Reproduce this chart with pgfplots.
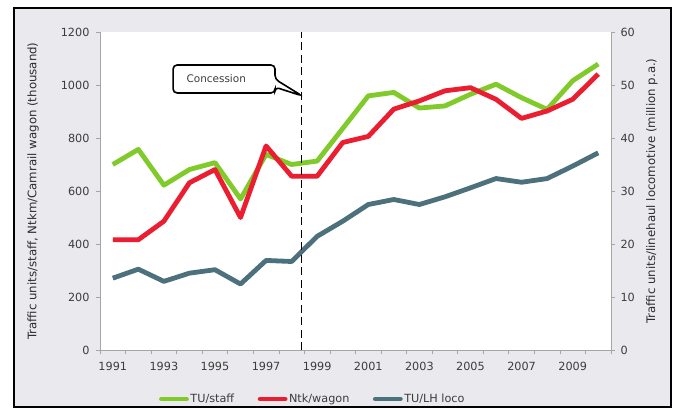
\documentclass[border=0pt]{standalone}
\usepackage{pgfplots}
\pgfplotsset{compat=1.18}
\usepackage{fontspec}
\setmainfont{DejaVu Sans}
\definecolor{cgreen}{RGB}{128,202,42}
\definecolor{cred}{RGB}{234,30,48}
\definecolor{cgrey}{RGB}{76,112,124}
\definecolor{bggrey}{RGB}{234,234,238}
\definecolor{axgrey}{RGB}{165,165,165}
\definecolor{txtgrey}{RGB}{60,60,60}
\definecolor{lblgrey}{RGB}{45,45,45}
\begin{document}
\begin{tikzpicture}
\path[use as bounding box] (0,0) rectangle (676bp,-410bp);
\draw[line width=2bp, fill=bggrey] (14bp,-8bp) rectangle (671bp,-407bp);
\fill[white] (100bp,-32bp) rectangle (611bp,-350bp);
\begin{axis}[
  at={(100bp,-350bp)}, anchor=south west, scale only axis,
  width=511bp, height=318bp,
  xmin=1990.5, xmax=2010.5, ymin=0, ymax=1200,
  axis x line*=bottom, axis y line*=left,
  axis line style={draw=axgrey, line width=0.8bp},
  every axis plot/.append style={line width=4.8bp, line join=round},
  font=\fontsize{11.3}{13}\selectfont,
  tick label style={text=txtgrey},
  xtick={1991,1993,...,2009},
  xticklabels={1991,1993,1995,1997,1999,2001,2003,2005,2007,2009},
  minor xtick={1990.5,1991.5,...,2010.5},
  major x tick style={draw=none},
  minor x tick style={draw=axgrey, line width=0.6bp},
  minor tick length=4bp, major tick length=4bp,
  tick align=outside,
  ytick={0,200,...,1200},
  y tick style={draw=axgrey, line width=0.6bp},
  /pgf/number format/1000 sep={},
  /pgf/number format/assume math mode=true,
  xticklabel style={yshift=-5bp},
  yticklabel style={xshift=-3bp},
  ylabel={Traffic units/staff, Ntkm/Camrail wagon (thousand)},
  ylabel style={at={(axis description cs:-0.131,0.5)}, anchor=center, font=\fontsize{11.8}{13}\selectfont, text=lblgrey},
  clip=false,
]
\addplot[cgreen] coordinates {(1991,700) (1992,757) (1993,622) (1994,681) (1995,707) (1996,570) (1997,738) (1998,700) (1999,713) (2000,836) (2001,959) (2002,972) (2003,913) (2004,921) (2005,965) (2006,1003) (2007,952) (2008,908) (2009,1016) (2010,1079)};
\addplot[cred] coordinates {(1991,416) (1992,416) (1993,486) (1994,631) (1995,681) (1996,500) (1997,770) (1998,656) (1999,656) (2000,783) (2001,806) (2002,909) (2003,940) (2004,978) (2005,990) (2006,946) (2007,874) (2008,902) (2009,946) (2010,1041)};
\end{axis}
\begin{axis}[
  at={(100bp,-350bp)}, anchor=south west, scale only axis,
  width=511bp, height=318bp,
  xmin=1990.5, xmax=2010.5, ymin=0, ymax=60,
  axis y line*=right, hide x axis,
  axis line style={draw=axgrey, line width=0.8bp},
  every axis plot/.append style={line width=4.8bp, line join=round},
  font=\fontsize{11.3}{13}\selectfont,
  tick label style={text=txtgrey},
  ytick={0,10,...,60},
  y tick style={draw=axgrey, line width=0.6bp},
  major tick length=4bp, tick align=outside,
  /pgf/number format/assume math mode=true,
  yticklabel style={xshift=2bp},
  ylabel={Traffic units/linehaul locomotive (million p.a.)},
  ylabel style={at={(axis description cs:1.080,0.5)}, anchor=center, font=\fontsize{11.8}{13}\selectfont, text=lblgrey},
  legend columns=3,
  legend style={at={(axis description cs:0.416,-0.154)}, anchor=center, draw=none, fill=none,
    font=\fontsize{11.3}{12}\selectfont, text=txtgrey,
    /tikz/every even column/.append style={column sep=22bp},
    nodes={inner xsep=1.5bp}},
  legend image code/.code={\draw[#1, line width=4.8bp, line cap=round] (0bp,0bp) -- (25bp,0bp);},
  clip=false,
]
\addlegendimage{cgreen}
\addlegendentry{TU/staff}
\addlegendimage{cred}
\addlegendentry{Ntk/wagon}
\addplot[cgrey] coordinates {(1991,13.55) (1992,15.25) (1993,12.95) (1994,14.5) (1995,15.15) (1996,12.45) (1997,16.9) (1998,16.7) (1999,21.45) (2000,24.3) (2001,27.45) (2002,28.4) (2003,27.45) (2004,28.9) (2005,30.6) (2006,32.35) (2007,31.65) (2008,32.35) (2009,34.7) (2010,37.2)};
\addlegendentry{TU/LH loco}
\draw[black, line width=1.8bp, dash pattern=on 8bp off 4.5bp] (axis cs:1998.39,0) -- (axis cs:1998.39,60);
\draw[black, line width=1.6bp, rounded corners=4bp, fill=white]
  (axis cs:1993.36,53.77) -- (axis cs:1997.35,53.77) -- (axis cs:1997.35,51.1)
  -- (axis cs:1998.41,47.95) -- (axis cs:1997.35,49.6) -- (axis cs:1997.35,48.5)
  -- (axis cs:1993.36,48.5) -- cycle;
\node[text=txtgrey, font=\fontsize{10.5}{12}\selectfont, anchor=west] at (axis cs:1993.75,51.3) {Concession};
\end{axis}
\end{tikzpicture}
\end{document}
